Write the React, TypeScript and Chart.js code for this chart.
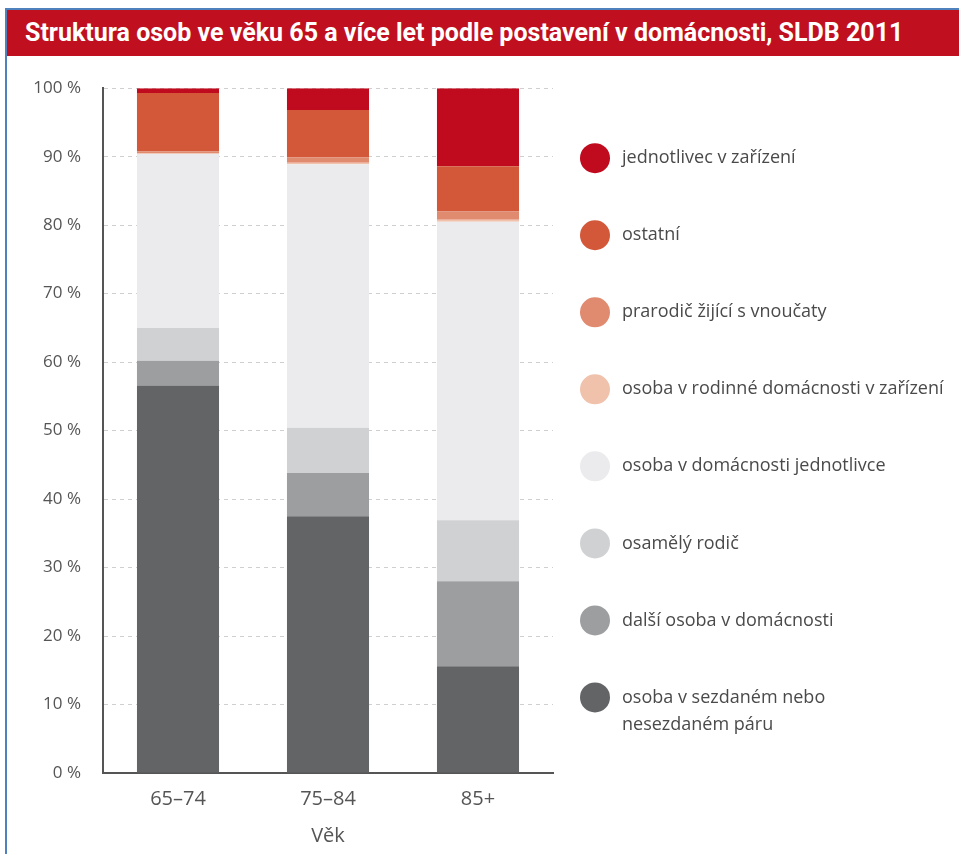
import React, { useEffect, useRef } from "react";
import { Chart, registerables } from "chart.js";

Chart.register(...registerables);

// ---- data ----
const categories = ["65–74", "75–84", "85+"];

// stacked bottom -> top
const sezdany = [56.6, 37.5, 15.6]; // osoba v sezdaném nebo nesezdaném páru
const dalsi = [3.6, 6.3, 12.4]; // další osoba v domácnosti
const osamely = [4.8, 6.6, 8.9]; // osamělý rodič
const jednotlivce = [25.4, 38.5, 43.6]; // osoba v domácnosti jednotlivce
const rodinne = [0.1, 0.2, 0.3]; // osoba v rodinné domácnosti v zařízení
const prarodic = [0.3, 0.8, 1.2]; // prarodič žijící s vnoučaty
const ostatni = [8.5, 6.9, 6.6]; // ostatní
const jednotlivec = [0.7, 3.2, 11.4]; // jednotlivec v zařízení

const seriesLabels = [
  "osoba v sezdaném nebo\nnesezdaném páru",
  "další osoba v domácnosti",
  "osamělý rodič",
  "osoba v domácnosti jednotlivce",
  "osoba v rodinné domácnosti v zařízení",
  "prarodič žijící s vnoučaty",
  "ostatní",
  "jednotlivec v zařízení",
];
const seriesValues = [sezdany, dalsi, osamely, jednotlivce, rodinne, prarodic, ostatni, jednotlivec];
const seriesColors = [
  "#636466",
  "#9d9ea0",
  "#d0d1d3",
  "#ebebed",
  "#f0c2ac",
  "#e08a70",
  "#d3583a",
  "#c00a1e",
];

const yMin = 0;
const yMax = 100;
const yStep = 10;

const title = "Struktura osob ve věku 65 a více let podle postavení v domácnosti, SLDB 2011";
const xTitle = "Věk";

// ---- layout ----
const CANVAS_LEFT = 7;
const CANVAS_TOP = 56;
const CANVAS_W = 959 - CANVAS_LEFT;
const CANVAS_H = 854 - CANVAS_TOP;
const FONT = "'Open Sans', 'DejaVu Sans', sans-serif";

const sideLegend = {
  id: "sideLegend",
  afterDraw(chart: any) {
    const { ctx, chartArea } = chart;
    const ds = chart.data.datasets;
    const n = ds.length;
    const step = chartArea.height * 0.1125;
    ctx.save();
    ctx.font = `18px ${FONT}`;
    ctx.textBaseline = "middle";
    ctx.textAlign = "left";
    for (let i = 0; i < n; i++) {
      const d = ds[n - 1 - i];
      const y = chartArea.top + 70 + i * step;
      ctx.beginPath();
      ctx.arc(chartArea.right + 42, y, 15, 0, Math.PI * 2);
      ctx.fillStyle = d.backgroundColor;
      ctx.fill();
      ctx.fillStyle = "#4a4a4a";
      const lines = String(d.label).split("\n");
      lines.forEach((ln: string, j: number) => {
        ctx.fillText(ln, chartArea.right + 69, y + j * 27);
      });
    }
    ctx.restore();
  },
};

function ChartCanvas() {
  const ref = useRef<HTMLCanvasElement | null>(null);
  useEffect(() => {
    if (!ref.current) return;
    const chart = new Chart(ref.current, {
      type: "bar",
      data: {
        labels: categories,
        datasets: seriesValues.map((vals, i) => ({
          label: seriesLabels[i],
          data: vals,
          backgroundColor: seriesColors[i],
          borderWidth: 0,
          barPercentage: 0.547,
          categoryPercentage: 1,
        })),
      },
      options: {
        responsive: false,
        animation: false,
        layout: { padding: { top: 87 - CANVAS_TOP, right: 406, left: 0, bottom: 0 } },
        plugins: {
          legend: { display: false },
          tooltip: { enabled: false },
          title: { display: false },
        },
        scales: {
          x: {
            stacked: true,
            grid: { display: false, drawTicks: false },
            border: { display: true, color: "#555", width: 2 },
            ticks: {
              color: "#555",
              font: { family: FONT, size: 20 },
              padding: 14,
            },
            title: {
              display: true,
              text: xTitle,
              color: "#555",
              font: { family: FONT, size: 20 },
              padding: { top: 0, bottom: 6 },
            },
            afterFit: (s: any) => {
              s.height = CANVAS_H - (773 - CANVAS_TOP);
            },
          },
          y: {
            stacked: true,
            min: yMin,
            max: yMax,
            grid: { color: "#cfcfcf", lineWidth: 1, drawTicks: false },
            border: { display: true, color: "#555", width: 2, dash: [4, 4] },
            ticks: {
              stepSize: yStep,
              color: "#555",
              font: { family: FONT, size: 17 },
              padding: 22,
              callback: (v: any) => `${v} %`,
            },
            afterFit: (s: any) => {
              s.width = 103 - CANVAS_LEFT;
            },
          },
        },
      },
      plugins: [sideLegend],
    });
    return () => chart.destroy();
  }, []);
  return (
    <canvas
      ref={ref}
      width={CANVAS_W}
      height={CANVAS_H}
      style={{ position: "absolute", left: CANVAS_LEFT, top: CANVAS_TOP, width: CANVAS_W, height: CANVAS_H }}
    />
  );
}

export default function App() {
  return (
    <div style={{ position: "absolute", left: 0, top: 0, width: 959, height: 854, background: "#fff", overflow: "hidden" }}>
      <div style={{ position: "absolute", left: 5, top: 8, width: 2, height: 846, background: "#4f81bd" }} />
      <div style={{ position: "absolute", left: 5, top: 8, width: 954, height: 2, background: "#4f81bd" }} />
      <div
        style={{
          position: "absolute",
          left: 7,
          top: 10,
          width: 952,
          height: 46,
          background: "#c0101f",
          color: "#fff",
          fontFamily: "Roboto, 'Open Sans', sans-serif",
          fontWeight: 700,
          fontSize: 25,
          lineHeight: "46px",
          paddingLeft: 18,
          boxSizing: "border-box",
          whiteSpace: "nowrap",
        }}
      >
        {title}
      </div>
      <ChartCanvas />
    </div>
  );
}
